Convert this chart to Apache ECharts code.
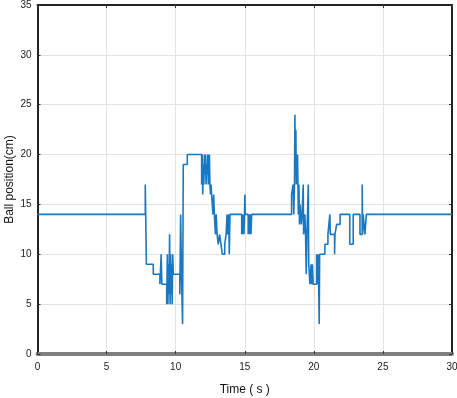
<!DOCTYPE html>
<html>
<head>
<meta charset="utf-8">
<script src="https://cdn.jsdelivr.net/npm/echarts@6/dist/echarts.min.js"></script>
<style>html,body{margin:0;padding:0;background:#fff}#c{width:457px;height:398px}</style>
</head>
<body>
<div id="c"></div>
<script>
// Time (s) and ball position (cm), sample-and-hold signal
const timeS = [
  0, 7.80, 7.88, 8.38, 8.86, 8.95, 9.00, 9.35, 9.40, 9.44, 9.48, 9.52, 9.56, 9.60, 9.64, 9.67, 9.71, 9.75, 9.79, 9.83,
  10.30, 10.36, 10.42, 10.50, 10.55, 10.84,
  11.88, 11.92, 11.96, 12.00, 12.04, 12.08, 12.12, 12.16, 12.20, 12.24, 12.28, 12.32, 12.36, 12.40, 12.44, 12.48, 12.52, 12.56, 12.60,
  12.70, 12.75, 12.80, 12.88, 12.93, 13.00, 13.08, 13.18, 13.28, 13.38, 13.55, 13.65, 13.72, 13.76, 13.85, 13.88, 13.93,
  14.78, 14.82, 14.86, 14.90, 14.94, 14.98, 15.01, 15.04, 15.25, 15.30, 15.35, 15.40, 15.45, 15.50,
  18.39, 18.50, 18.55, 18.60, 18.63, 18.66, 18.70, 18.73, 18.76, 18.79, 18.82, 18.85, 18.88, 18.92, 18.96, 19.00, 19.05, 19.10, 19.15,
  19.23, 19.26, 19.35, 19.40, 19.45, 19.50, 19.60, 19.63, 19.72, 19.80, 19.85, 19.90, 19.95, 20.20, 20.25, 20.30, 20.35, 20.39, 20.42,
  20.80, 21.02, 21.16, 21.19, 21.50, 21.53, 21.65, 21.90,
  22.60, 22.85, 23.34, 23.50, 23.53, 23.57, 23.70, 23.80, 30
];
const positionCm = [
  14, 17, 9, 8, 7, 10, 7, 5, 10, 5, 9, 6, 12, 5, 10, 6, 9, 5, 10, 8,
  6, 14, 8, 3, 19, 20,
  17, 20, 16, 19, 17, 20, 18, 20, 17, 19, 18, 20, 17, 19, 20, 17, 16, 17, 16,
  14, 16, 14, 12, 14, 12, 11, 12, 11, 10, 11, 12, 14, 12, 14, 10, 14,
  12, 14, 12, 14, 12, 14, 16, 14, 12, 14, 12, 14, 12, 14,
  16, 17, 14, 17, 24, 18, 22.5, 17, 20, 18, 20, 17, 14, 17, 13, 15, 14, 13, 14,
  17, 12, 14, 12, 8, 12, 17, 9, 7, 9, 7, 9, 7, 10, 7, 10, 7, 3, 10,
  11, 12, 14, 12, 10, 12, 13, 14,
  11, 14, 12, 17, 12, 14, 12, 14, 14
];
const xTicks = [0, 5, 10, 15, 20, 25, 30];
const yTicks = [0, 5, 10, 15, 20, 25, 30, 35];

const data = timeS.map((t, i) => [t, positionCm[i]]);
const font = 'Liberation Sans';
const chart = echarts.init(document.getElementById('c'));
chart.setOption({
  animation: false,
  grid: {left: 37.5, right: 5, top: 5, bottom: 44, containLabel: false, outerBoundsMode: 'none'},
  xAxis: [{
    type: 'value', min: xTicks[0], max: xTicks[xTicks.length - 1], interval: 5,
    name: 'Time ( s )', nameLocation: 'middle', nameGap: 30, nameMoveOverlap: false,
    nameTextStyle: {fontFamily: font, fontSize: 12, color: '#111'},
    axisLine: {onZero: false, lineStyle: {color: '#808080', width: 4}},
    axisTick: {inside: true, length: 3, lineStyle: {color: '#333'}},
    axisLabel: {fontFamily: font, fontSize: 10, color: '#222', margin: 8},
    splitLine: {show: true, lineStyle: {color: '#e3e3e3', width: 1}}
  }, {
    type: 'value', position: 'top', min: 0, max: 30, interval: 5,
    axisLine: {onZero: false, lineStyle: {color: '#222', width: 2}},
    axisTick: {inside: true, length: 3, lineStyle: {color: '#333'}},
    axisLabel: {show: false}, splitLine: {show: false}
  }],
  yAxis: [{
    type: 'value', min: yTicks[0], max: yTicks[yTicks.length - 1], interval: 5,
    name: 'Ball position(cm)', nameLocation: 'middle', nameGap: 22, nameMoveOverlap: false,
    nameTextStyle: {fontFamily: font, fontSize: 12, color: '#111'},
    axisLine: {show: true, onZero: false, lineStyle: {color: '#222', width: 2}},
    axisTick: {show: true, inside: true, length: 3, lineStyle: {color: '#333'}},
    axisLabel: {fontFamily: font, fontSize: 10, color: '#222', margin: 6},
    splitLine: {show: true, lineStyle: {color: '#e3e3e3', width: 1}}
  }, {
    type: 'value', position: 'right', min: 0, max: 35, interval: 5,
    axisLine: {show: true, onZero: false, lineStyle: {color: '#222', width: 2}},
    axisTick: {show: true, inside: true, length: 3, lineStyle: {color: '#333'}},
    axisLabel: {show: false}, splitLine: {show: false}
  }],
  series: [{
    type: 'line', xAxisIndex: 0, yAxisIndex: 0, step: 'end',
    data: data, showSymbol: false, z: 1,
    lineStyle: {color: '#1a78c2', width: 1.6}
  }]
});
</script>
</body>
</html>
